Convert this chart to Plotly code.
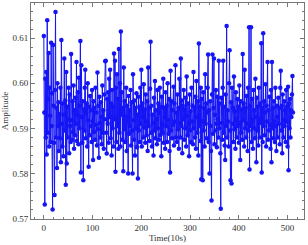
import plotly.graph_objects as go

amplitude = [
    0.6105, 0.5935, 0.5731, 0.6010, 0.5880, 0.6025, 0.5842, 0.6140, 0.5890, 0.5965, 0.6067, 0.5860, 0.5990, 0.5928, 0.5870, 0.6090,
    0.5905, 0.5978, 0.5720, 0.6085, 0.5950, 0.5868, 0.5752, 0.5985, 0.6158, 0.5880, 0.5945, 0.5812, 0.6000, 0.5905, 0.5958, 0.5850,
    0.5932, 0.5878, 0.5990, 0.5825, 0.6096, 0.5910, 0.5860, 0.5955, 0.5838, 0.5930, 0.6055, 0.5895, 0.5962, 0.5775, 0.6025, 0.5822,
    0.5948, 0.5880, 0.5920, 0.5990, 0.5845, 0.5975, 0.5905, 0.5870, 0.6065, 0.5918, 0.5875, 0.5960, 0.5892, 0.5995, 0.5855, 0.5940,
    0.5885, 0.5968, 0.5910, 0.6047, 0.5872, 0.5930, 0.5980, 0.5865, 0.6012, 0.5900, 0.5950, 0.6094, 0.5802, 0.6040, 0.5925, 0.5868,
    0.5960, 0.5785, 0.5942, 0.5895, 0.5990, 0.6030, 0.5878, 0.5935, 0.5955, 0.5860, 0.6000, 0.5918, 0.5815, 0.5948, 0.5885, 0.5972,
    0.5905, 0.5940, 0.5870, 0.5985, 0.5915, 0.5830, 0.5960, 0.5892, 0.5945, 0.5875, 0.5990, 0.5908, 0.5935, 0.5862, 0.6024, 0.5898,
    0.5950, 0.5835, 0.5970, 0.5912, 0.5880, 0.5958, 0.5925, 0.5865, 0.5995, 0.5890, 0.5940, 0.5855, 0.5975, 0.5920, 0.6049, 0.6050,
    0.5890, 0.5844, 0.5965, 0.5910, 0.5980, 0.5868, 0.6010, 0.5925, 0.6030, 0.5878, 0.5955, 0.5840, 0.5985, 0.5900, 0.5948, 0.5860,
    0.6066, 0.5920, 0.6050, 0.5804, 0.5990, 0.5870, 0.6020, 0.5905, 0.5965, 0.5855, 0.6076, 0.5890, 0.6000, 0.5860, 0.6115, 0.5930,
    0.5980, 0.5875, 0.5945, 0.5805, 0.6035, 0.5898, 0.5960, 0.5870, 0.5925, 0.5990, 0.5850, 0.5950, 0.5915, 0.5800, 0.5972, 0.5888,
    0.5940, 0.5905, 0.5985, 0.5862, 0.5958, 0.5895, 0.5800, 0.6020, 0.5918, 0.5875, 0.5962, 0.5840, 0.5945, 0.5900, 0.5978, 0.5858,
    0.5930, 0.5789, 0.5970, 0.5895, 0.5948, 0.5870, 0.5990, 0.5910, 0.6030, 0.5860, 0.5955, 0.5925, 0.5880, 0.5998, 0.5902, 0.5942,
    0.5868, 0.5975, 0.5915, 0.5885, 0.5960, 0.5850, 0.6035, 0.5905, 0.5945, 0.5872, 0.5988, 0.6092, 0.5890, 0.5950, 0.5860, 0.5930,
    0.5912, 0.5840, 0.5968, 0.5895, 0.6005, 0.5878, 0.5940, 0.5920, 0.5865, 0.5985, 0.5900, 0.5955, 0.5875, 0.5935, 0.5990, 0.5885,
    0.5948, 0.5838, 0.5970, 0.5910, 0.5890, 0.6010, 0.5868, 0.5945, 0.5925, 0.5855, 0.5980, 0.5905, 0.5950, 0.5870, 0.6000, 0.5918,
    0.5888, 0.5965, 0.5850, 0.5802, 0.6028, 0.5895, 0.5960, 0.5878, 0.5940, 0.5908, 0.5992, 0.5862, 0.5955, 0.5915, 0.6040, 0.5880,
    0.5935, 0.5870, 0.5975, 0.5898, 0.5945, 0.5855, 0.6010, 0.5912, 0.5880, 0.6055, 0.5905, 0.5962, 0.5845, 0.5950, 0.5920, 0.5985,
    0.5875, 0.5942, 0.5900, 0.5968, 0.5860, 0.6015, 0.5928, 0.5885, 0.5955, 0.5910, 0.5838, 0.5975, 0.5895, 0.5938, 0.5870, 0.5990,
    0.5915, 0.5950, 0.5865, 0.6025, 0.5900, 0.5945, 0.5880, 0.5970, 0.5855, 0.6005, 0.5925, 0.5890, 0.5960, 0.5840, 0.6088, 0.5905,
    0.5948, 0.5872, 0.5990, 0.5787, 0.5965, 0.5915, 0.5785, 0.5980, 0.5895, 0.5945, 0.5860, 0.6020, 0.5910, 0.5955, 0.5878, 0.5935,
    0.5990, 0.6064, 0.5870, 0.5940, 0.5800, 0.5960, 0.5905, 0.5850, 0.5740, 0.5975, 0.6064, 0.5888, 0.5945, 0.6055, 0.5865, 0.5930,
    0.5895, 0.5985, 0.5910, 0.5858, 0.5970, 0.5920, 0.5880, 0.6050, 0.5900, 0.5955, 0.5845, 0.5722, 0.5968, 0.5912, 0.5875, 0.5990,
    0.6050, 0.5890, 0.5948, 0.5862, 0.5830, 0.5975, 0.5905, 0.6127, 0.5880, 0.5940, 0.5915, 0.5860, 0.6000, 0.6073, 0.5895, 0.5785,
    0.5958, 0.5778, 0.5990, 0.5910, 0.5945, 0.5870, 0.6015, 0.5898, 0.5938, 0.5855, 0.5980, 0.5920, 0.5880, 0.5965, 0.5905, 0.5948,
    0.5868, 0.5995, 0.5912, 0.5830, 0.5960, 0.5890, 0.5942, 0.5875, 0.6065, 0.5918, 0.5955, 0.5860, 0.6030, 0.5900, 0.5945, 0.5880,
    0.5972, 0.5910, 0.5850, 0.5990, 0.5895, 0.6124, 0.5809, 0.5950, 0.5905, 0.6124, 0.5870, 0.5965, 0.5918, 0.5855, 0.5985, 0.5900,
    0.5940, 0.5878, 0.6010, 0.5925, 0.5825, 0.5968, 0.5895, 0.5948, 0.5862, 0.5990, 0.5912, 0.5880, 0.5955, 0.5920, 0.6089, 0.5802,
    0.5945, 0.5870, 0.6111, 0.5905, 0.5960, 0.5885, 0.5935, 0.5998, 0.5860, 0.5950, 0.5915, 0.6047, 0.5875, 0.5940, 0.5895, 0.5970,
    0.5908, 0.5855, 0.5985, 0.5825, 0.6047, 0.5900, 0.5945, 0.5878, 0.5960, 0.5915, 0.5870, 0.5990, 0.5905, 0.5850, 0.5950, 0.5925,
    0.5880, 0.5968, 0.5910, 0.5945, 0.5865, 0.5990, 0.6028, 0.5895, 0.5950, 0.5845, 0.5975, 0.5918, 0.5880, 0.5960, 0.5905, 0.5940,
    0.5870, 0.5985, 0.5915, 0.5948, 0.5860, 0.5992, 0.5807, 0.5955, 0.5900, 0.5965, 0.5880, 0.5940, 0.5925, 0.5975, 0.6016, 0.5935,
]
time = list(range(len(amplitude)))

x_ticks = [0, 100, 200, 300, 400, 500]
y_ticks = [0.57, 0.58, 0.59, 0.60, 0.61]
y_tick_labels = ["0.57", "0.58", "0.59", "0.60", "0.61"]

fig = go.Figure(go.Scatter(
    x=time, y=amplitude, mode="lines+markers",
    line=dict(color="rgb(20,20,245)", width=1),
    marker=dict(color="rgb(20,20,245)", size=4.5),
))

font = dict(family="Liberation Serif, Times New Roman, serif", size=9, color="#333")
axis_common = dict(
    showline=True, linecolor="#777", linewidth=1, mirror="allticks",
    ticks="inside", ticklen=4, tickcolor="#777", tickwidth=0.8,
    showgrid=False, zeroline=False, tickfont=font, automargin=False,
)
fig.update_xaxes(
    range=[-26.3, 533.7], tickvals=x_ticks, ticktext=[str(v) for v in x_ticks],
    minor=dict(ticks="inside", ticklen=2, dtick=20, tick0=0, tickcolor="#777"),
    title=dict(text="Time(10s)", font=font, standoff=2), **axis_common,
)
fig.update_yaxes(
    range=[0.5699, 0.6178], tickvals=y_ticks, ticktext=y_tick_labels,
    minor=dict(ticks="inside", ticklen=2, dtick=0.002, tick0=0.57, tickcolor="#777"),
    title=dict(text="Amplitude", font=font, standoff=2), **axis_common,
)
fig.update_layout(
    width=308, height=245, margin=dict(l=31, r=4, t=3, b=26, autoexpand=False),
    paper_bgcolor="white", plot_bgcolor="white", showlegend=False,
)
fig.write_html(
    "out.html",
    config={"displayModeBar": False},
    post_script="document.body.style.margin='0';document.body.style.overflow='hidden';",
)
